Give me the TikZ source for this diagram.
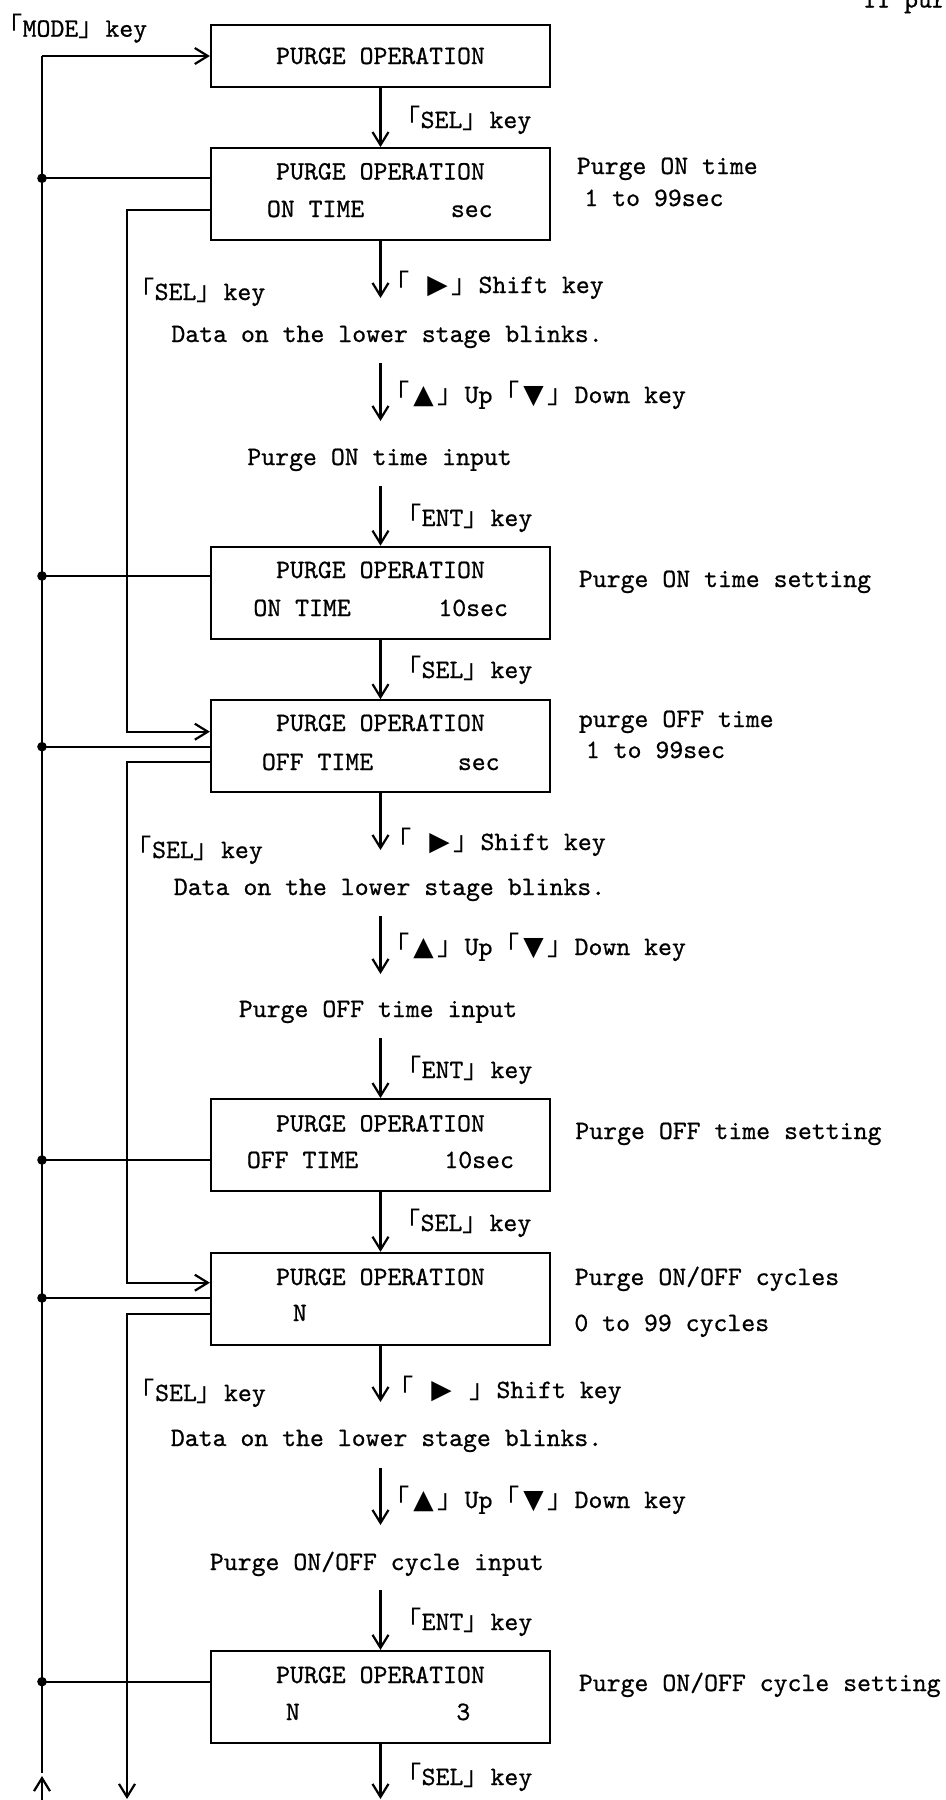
\documentclass[tikz,border=0pt]{standalone}
\usepackage{fontspec}
\newfontfamily\cjkf{Noto Sans CJK JP}
\newfontfamily\symf{DejaVu Sans}
\newfontfamily\monof{lmmono10-regular.otf}[FakeBold=0.7]
\usetikzlibrary{arrows.meta}
\newcommand\mytt{\fontsize{13.25pt}{16pt}\selectfont\monof}
\newcommand\lbk{{\cjkf ｢}}
\newcommand\rbk{{\cjkf ｣}}
\newcommand\trir{\makebox[1.05em][c]{\symf ▶}}
\newcommand\triu{\makebox[1.05em][c]{\symf ▲}}
\newcommand\trid{\makebox[1.05em][c]{\symf ▼}}
\tikzset{
  ln/.style={line width=1.1pt},
  arr/.style={line width=1.1pt,-{Straight Barb[length=6.5pt,width=8pt]}},
  box/.style={draw,line width=1.1pt,minimum width=169.5pt,minimum height=46pt,inner sep=0pt},
  txt/.style={anchor=base west,inner sep=0pt,font=\mytt},
  ctxt/.style={anchor=base,inner sep=0pt,font=\mytt},
  jdot/.style={fill=black}
}
\begin{document}
\begin{tikzpicture}[x=0.5pt,y=-0.5pt]
\useasboundingbox (0,0) rectangle (946,1800);
\fill[white] (0,0) rectangle (946,1800);
\begin{scope}
\clip (0,0) rectangle (946,1800);
\node[txt] (top) at (862,7.5) {11 pur};
\end{scope}

% boxes
\node[box,minimum height=31pt] (b1) at (380.5,56) {};
\node[box] (b2) at (380.5,194.2) {};
\node[box] (b3) at (380.5,592.8) {};
\node[box] (b4) at (380.5,746.3) {};
\node[box] (b5) at (380.5,1145.2) {};
\node[box] (b6) at (380.5,1298.9) {};
\node[box] (b7) at (380.5,1697) {};

% box texts
\node[ctxt] (b1t) at (380.5,64) {PURGE OPERATION};
\node[ctxt] (b2t) at (380.5,179.5) {PURGE OPERATION};
\node[txt] (b2l) at (266.5,217) {ON TIME};
\node[txt] (b2r) at (450.5,217) {sec};
\node[ctxt] (b3t) at (380.5,578) {PURGE OPERATION};
\node[txt] (b3l) at (253,616) {ON TIME};
\node[txt] (b3r) at (438,616) {10sec};
\node[ctxt] (b4t) at (380.5,731) {PURGE OPERATION};
\node[txt] (b4l) at (261.5,770) {OFF TIME};
\node[txt] (b4r) at (457.5,770) {sec};
\node[ctxt] (b5t) at (380.5,1131.5) {PURGE OPERATION};
\node[txt] (b5l) at (246.5,1168) {OFF TIME};
\node[txt] (b5r) at (444,1168) {10sec};
\node[ctxt] (b6t) at (380.5,1285) {PURGE OPERATION};
\node[txt] (b6l) at (292.5,1321) {N};
\node[ctxt] (b7t) at (380.5,1683) {PURGE OPERATION};
\node[txt] (b7l) at (285.5,1720) {N};
\node[txt] (b7r) at (456,1720) {3};

% right-hand notes
\node[txt] (r2a) at (576.5,174) {Purge ON time};
\node[txt] (r2b) at (584,206) {1 to 99sec};
\node[txt] (r3) at (578.5,587) {Purge ON time setting};
\node[txt] (r4a) at (578.5,727) {purge OFF time};
\node[txt] (r4b) at (585.5,758) {1 to 99sec};
\node[txt] (r5) at (575,1139) {Purge OFF time setting};
\node[txt] (r6a) at (574.5,1285) {Purge ON/OFF cycles};
\node[txt] (r6b) at (574,1331) {0 to 99 cycles};
\node[txt] (r7) at (578.5,1691) {Purge ON/OFF cycle setting};

% labels
\node[txt] (mode) at (9,36.7) {\lbk MODE\rbk\ key};
\node[txt] (k1) at (407,128) {\lbk SEL\rbk\ key};
\node[txt] (k2) at (396,293) {\lbk\ \trir\rbk\ Shift key};
\node[txt] (s2) at (141,300) {\lbk SEL\rbk\ key};
\node[txt] (d2t) at (171,342) {Data on the lower stage blinks.};
\node[txt] (u2) at (396,403) {\lbk\triu\rbk\ Up \lbk\trid\rbk\ Down key};
\node[txt] (i2t) at (247,465) {Purge ON time input};
\node[txt] (n2) at (408,526) {\lbk ENT\rbk\ key};
\node[txt] (k3) at (408,678) {\lbk SEL\rbk\ key};
\node[txt] (k4) at (398,850) {\lbk\ \trir\rbk\ Shift key};
\node[txt] (s4) at (138.5,858) {\lbk SEL\rbk\ key};
\node[txt] (d4t) at (173.5,895) {Data on the lower stage blinks.};
\node[txt] (u4) at (396,955) {\lbk\triu\rbk\ Up \lbk\trid\rbk\ Down key};
\node[txt] (i4t) at (238.5,1017) {Purge OFF time input};
\node[txt] (n4) at (408,1078) {\lbk ENT\rbk\ key};
\node[txt] (k5) at (407,1231) {\lbk SEL\rbk\ key};
\node[txt] (k6) at (400,1398) {\lbk\ \trir\ \rbk\ Shift key};
\node[txt] (s6) at (141.5,1401) {\lbk SEL\rbk\ key};
\node[txt] (d6t) at (170.5,1446) {Data on the lower stage blinks.};
\node[txt] (u6) at (396,1508) {\lbk\triu\rbk\ Up \lbk\trid\rbk\ Down key};
\node[txt] (i6t) at (209.5,1570) {Purge ON/OFF cycle input};
\node[txt] (n6) at (408,1630) {\lbk ENT\rbk\ key};
\node[txt] (k7) at (408,1785) {\lbk SEL\rbk\ key};

% coordinates
\coordinate (m0) at (42,56);
\coordinate (m1) at (42,1773);
\coordinate (u0) at (42,1800);
\coordinate (u1) at (42,1776);
\coordinate (d2) at (42,178.3);
\coordinate (d3) at (42,576);
\coordinate (d4) at (42,746.7);
\coordinate (d5) at (42,1160);
\coordinate (d6) at (42,1298);
\coordinate (d7) at (42,1681.7);
\coordinate (o2) at (127,210);
\coordinate (i4) at (127,731.7);
\coordinate (o4) at (127,761.7);
\coordinate (i6) at (127,1282.7);
\coordinate (o6) at (127,1314);
\coordinate (z2) at (127,1799);
\coordinate (a2) at (380.5,298);
\coordinate (a3s) at (380.5,363);
\coordinate (a3e) at (380.5,421);
\coordinate (a4s) at (380.5,485.7);
\coordinate (a6) at (380.5,850);
\coordinate (a7s) at (380.5,916);
\coordinate (a7e) at (380.5,974);
\coordinate (a8s) at (380.5,1038);
\coordinate (a10) at (380.5,1402);
\coordinate (a11s) at (380.5,1467.7);
\coordinate (a11e) at (380.5,1525);
\coordinate (a12s) at (380.5,1590);
\coordinate (a13) at (380.5,1799);

% main return line
\draw[ln] (m1) -- (m0);
\draw[arr] (m0) -- (b1.west);
\draw[arr] (u0) -- (u1);
\foreach \d/\b in {d2/b2,d3/b3,d4/b4,d5/b5,d6/b6,d7/b7}{
  \draw[ln] (\d) -- (\b.west |- \d);
  \fill[jdot] (\d) circle (2.4pt);
}

% SEL skip lines
\draw[arr] (b2.west |- o2) -- (o2) -- (i4) -- (b4.west |- i4);
\draw[arr] (b4.west |- o4) -- (o4) -- (i6) -- (b6.west |- i6);
\draw[arr] (b6.west |- o6) -- (o6) -- (z2);

% vertical flow
\draw[arr] (b1.south) -- (b2.north);
\draw[arr] (b2.south) -- (a2);
\draw[arr] (a3s) -- (a3e);
\draw[arr] (a4s) -- (b3.north);
\draw[arr] (b3.south) -- (b4.north);
\draw[arr] (b4.south) -- (a6);
\draw[arr] (a7s) -- (a7e);
\draw[arr] (a8s) -- (b5.north);
\draw[arr] (b5.south) -- (b6.north);
\draw[arr] (b6.south) -- (a10);
\draw[arr] (a11s) -- (a11e);
\draw[arr] (a12s) -- (b7.north);
\draw[arr] (b7.south) -- (a13);
\end{tikzpicture}
\end{document}
